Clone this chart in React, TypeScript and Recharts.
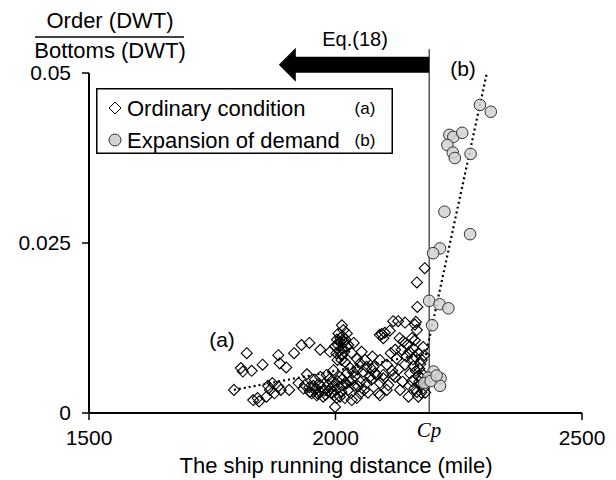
import { Legend, ReferenceArea, ReferenceLine, Scatter, ScatterChart, XAxis, YAxis } from 'recharts';

// Ordinary condition (a) – diamonds
const ordinaryDistance = [
  1794, 1808, 1812, 1820, 1830, 1833, 1845, 1842, 1852, 1860, 1867, 1872, 1884, 1887, 1884, 1889, 1900, 1906,
  1916, 1931, 1947, 1935, 1938, 1947, 1948, 1958, 1962, 1969, 1975, 1958, 1969, 1982, 1985, 1992, 1999, 2002,
  1969, 1989, 1999, 2009, 2013, 2016, 2023, 2006, 2002, 2013, 2019, 1996, 2009, 2023, 2033, 2016, 2026, 2009,
  2019, 2033, 2043, 2050, 2037, 2033, 2043, 2050, 2053, 2063, 2056, 2070, 2073, 2063, 2050, 2046,
  1952, 1955, 1960, 1965, 1972, 1978, 1980, 1966, 1990, 1994,
  2005, 2010, 2015, 2020, 2012, 2026, 2018, 2004,
  2030, 2036, 2040, 2044, 2028, 2038, 2058, 2066, 2060, 2074, 2080,
  2090, 2100, 2110, 2117, 2127, 2141, 2161, 2090, 2104, 2097, 2090, 2104, 2087, 2117,
  2181, 2165, 2166, 2163, 2094, 2097, 2165, 2161, 2138, 2155, 2178, 2121, 2134, 2158, 2075, 2124, 2144, 2161,
  2175, 2077, 2141, 2158, 2151, 2084, 2121, 2097, 2107, 2131, 2090, 2171, 2165, 2148, 2168, 2178, 2175,
  2170, 2174, 2180, 2168, 2150, 2136, 2115, 2128, 2112, 2150, 2146, 2130, 2168, 2170,
  1996, 2000, 2004, 2008, 2012, 1998, 2014, 2022, 1988, 1985,
  2008, 2014, 2022, 2017, 2011, 2003,
  2155, 2160, 2176, 2182, 2172, 2163, 2157, 2180,
  1876, 1863, 1925, 1942,
];
const ordinaryRatio = [
  0.0034, 0.0066, 0.0061, 0.0088, 0.0062, 0.0019, 0.0017, 0.0022, 0.0071, 0.0024, 0.0034, 0.0044, 0.0085, 0.0073, 0.0039, 0.0034, 0.0067, 0.0034,
  0.0088, 0.01, 0.0103, 0.0036, 0.0041, 0.0038, 0.0031, 0.0034, 0.0026, 0.0031, 0.0024, 0.0049, 0.0053, 0.0056, 0.0041, 0.0029, 0.0009, 0.0022,
  0.0093, 0.009, 0.0098, 0.0105, 0.0129, 0.0122, 0.0117, 0.0117, 0.0088, 0.0085, 0.0075, 0.0063, 0.0053, 0.0058, 0.0049, 0.0041, 0.0034, 0.0024,
  0.0022, 0.0019, 0.0022, 0.0029, 0.0103, 0.0088, 0.008, 0.0073, 0.009, 0.0068, 0.0061, 0.0053, 0.0049, 0.0044, 0.0046, 0.0039,
  0.0029, 0.004, 0.0036, 0.0028, 0.0038, 0.0033, 0.0027, 0.0043, 0.0036, 0.0045,
  0.01, 0.011, 0.0095, 0.0108, 0.0078, 0.01, 0.009, 0.0078,
  0.0066, 0.006, 0.0054, 0.0064, 0.0046, 0.004, 0.0034, 0.003, 0.0078, 0.0064, 0.0058,
  0.0115, 0.0118, 0.0121, 0.0135, 0.0135, 0.0133, 0.013, 0.0078, 0.0071, 0.0056, 0.0044, 0.0034, 0.0029, 0.0056,
  0.0213, 0.0192, 0.0156, 0.0134, 0.0116, 0.011, 0.0122, 0.0107, 0.0105, 0.011, 0.0097, 0.0093, 0.0093, 0.0095, 0.0083, 0.008, 0.0083, 0.0083,
  0.0078, 0.0068, 0.0071, 0.0069, 0.0058, 0.0056, 0.0053, 0.0051, 0.0041, 0.0034, 0.0026, 0.0041, 0.0031, 0.0024, 0.0024, 0.0036, 0.0051,
  0.0046, 0.003, 0.0044, 0.0055, 0.004, 0.0046, 0.0062, 0.0064, 0.0088, 0.009, 0.01, 0.011, 0.0088, 0.0065,
  0.004, 0.0033, 0.0047, 0.0038, 0.0031, 0.0026, 0.005, 0.0043, 0.005, 0.0032,
  0.0092, 0.0113, 0.0098, 0.0104, 0.0086, 0.0108,
  0.0047, 0.0036, 0.0058, 0.003, 0.0072, 0.0062, 0.0079, 0.0085,
  0.0029, 0.004, 0.0044, 0.0057,
];

// Expansion of demand (b) – grey circles
const demandDistance = [
  2293, 2315, 2231, 2239, 2257, 2227, 2238, 2242, 2274, 2221, 2273, 2212, 2198, 2190, 2211, 2229, 2196,
  2199, 2188, 2213, 2212, 2180, 2193, 2205,
];
const demandRatio = [
  0.0453, 0.0443, 0.0409, 0.0406, 0.0412, 0.0394, 0.0383, 0.0375, 0.0381, 0.0296, 0.0263, 0.0242, 0.0235, 0.0165, 0.016, 0.0154, 0.0129,
  0.0061, 0.0052, 0.0051, 0.004, 0.0044, 0.0047, 0.0055,
];

const xTicks = [1500, 2000, 2500];
const yTicks = [0, 0.025, 0.05];
const cpDistance = 2190;

// dotted trend lines
const trendA = [{ x: 1794, y: 0.0034 }, { x: 2190, y: 0.0088 }];
const trendB = [{ x: 2183, y: 0.0085 }, { x: 2307, y: 0.05 }];

// Eq.(18) arrow extent
const arrowX = [1885, cpDistance];
const arrowY = [0.0487, 0.0537];

const ordinaryData = ordinaryDistance.map((x, i) => ({ x, y: ordinaryRatio[i] }));
const demandData = demandDistance.map((x, i) => ({ x, y: demandRatio[i] }));

const FONT = '"Liberation Sans", Arial, sans-serif';

const Diamond = (props: any) => {
  const { cx, cy } = props;
  const r = 5.5;
  return (
    <polygon
      points={`${cx},${cy - r} ${cx + r},${cy} ${cx},${cy + r} ${cx - r},${cy}`}
      fill="none"
      stroke="#000"
      strokeWidth={1.1}
    />
  );
};

const GreyDot = (props: any) => {
  const { cx, cy } = props;
  return <circle cx={cx} cy={cy} r={5.8} fill="#d2d2d2" fillOpacity={0.85} stroke="#333" strokeWidth={1} />;
};

const Arrow = (props: any) => {
  const { x, y, width, height } = props;
  const cy = y + height / 2;
  const hl = 17;
  const half = 8;
  const pts = [
    [x, cy],
    [x + hl, y],
    [x + hl, cy - half],
    [x + width, cy - half],
    [x + width, cy + half],
    [x + hl, cy + half],
    [x + hl, y + height],
  ]
    .map((p) => p.join(','))
    .join(' ');
  return <polygon points={pts} fill="#000" />;
};

const LegendBox = () => (
  <svg width={297} height={66} style={{ display: 'block', background: '#fff' }}>
    <rect x={0.75} y={0.75} width={295.5} height={64.5} fill="#fff" stroke="#000" strokeWidth={1.5} />
    <polygon points="19,14 25,20 19,26 13,20" fill="none" stroke="#000" strokeWidth={1} />
    <text x={31} y={27.5} fontSize={22} fontFamily={FONT} fill="#000">Ordinary condition</text>
    <text x={269} y={26} fontSize={17} fontFamily={FONT} fill="#000" textAnchor="middle">(a)</text>
    <circle cx={19} cy={52} r={6} fill="#d2d2d2" stroke="#333" strokeWidth={1} />
    <text x={31} y={59.5} fontSize={22} fontFamily={FONT} fill="#000">Expansion of demand</text>
    <text x={269} y={58} fontSize={17} fontFamily={FONT} fill="#000" textAnchor="middle">(b)</text>
  </svg>
);

export default function App() {
  const tickStyle = { fill: '#000', fontSize: 21, fontFamily: FONT };
  return (
    <div style={{ position: 'absolute', left: 0, top: 0, width: 616, height: 480, background: '#fff' }}>
      <ScatterChart width={616} height={480} margin={{ top: 73, right: 34, bottom: 27, left: 29 }}>
        <XAxis
          type="number"
          dataKey="x"
          domain={[1500, 2500]}
          ticks={xTicks}
          height={40}
          tickSize={7}
          tickMargin={10}
          axisLine={{ stroke: '#000', strokeWidth: 2 }}
          tickLine={{ stroke: '#000', strokeWidth: 1.5 }}
          tick={tickStyle}
        />
        <YAxis
          type="number"
          dataKey="y"
          domain={[0, 0.05]}
          ticks={yTicks}
          width={60}
          tickSize={7}
          tickMargin={11}
          tickFormatter={(v: number) => String(v)}
          axisLine={{ stroke: '#000', strokeWidth: 2 }}
          tickLine={{ stroke: '#000', strokeWidth: 1.5 }}
          tick={tickStyle}
        />
        <ReferenceArea
          x1={arrowX[0]}
          x2={arrowX[1]}
          y1={arrowY[0]}
          y2={arrowY[1]}
          ifOverflow="visible"
          shape={(p: any) => <Arrow {...p} />}
        />
        <ReferenceLine
          segment={[{ x: cpDistance, y: 0 }, { x: cpDistance, y: 0.0535 }]}
          stroke="#000"
          strokeWidth={1}
          ifOverflow="visible"
        />
        <Scatter data={ordinaryData} shape={(p: any) => <Diamond {...p} />} isAnimationActive={false} />
        <Scatter data={demandData} shape={(p: any) => <GreyDot {...p} />} isAnimationActive={false} />
        <ReferenceLine segment={trendA} stroke="#000" strokeWidth={2.2} strokeDasharray="2 3" ifOverflow="visible" />
        <ReferenceLine segment={trendB} stroke="#000" strokeWidth={2.2} strokeDasharray="2 3" ifOverflow="visible" />
        <Legend
          layout="vertical"
          align="center"
          verticalAlign="middle"
          content={() => <LegendBox />}
          wrapperStyle={{ left: 96, top: 88, width: 297, height: 66 }}
        />
      </ScatterChart>
      <svg width={616} height={480} style={{ position: 'absolute', left: 0, top: 0, pointerEvents: 'none' }}>
        <g fontFamily={FONT} fill="#000">
          <text x={110} y={28} fontSize={22} textAnchor="middle">Order (DWT)</text>
          <line x1={35} x2={184} y1={37} y2={37} stroke="#000" strokeWidth={1.5} />
          <text x={110} y={58} fontSize={22} textAnchor="middle">Bottoms (DWT)</text>
          <text x={355} y={46} fontSize={20} textAnchor="middle">Eq.(18)</text>
          <text x={463} y={76} fontSize={21} textAnchor="middle">(b)</text>
          <text x={222} y={347} fontSize={21} textAnchor="middle">(a)</text>
          <text x={336} y={473} fontSize={22} textAnchor="middle">The ship running distance (mile)</text>
        </g>
        <text x={429} y={437} fontSize={21} fontStyle="italic" fontFamily='"Liberation Serif", serif' textAnchor="middle">
          Cp
        </text>
      </svg>
    </div>
  );
}
